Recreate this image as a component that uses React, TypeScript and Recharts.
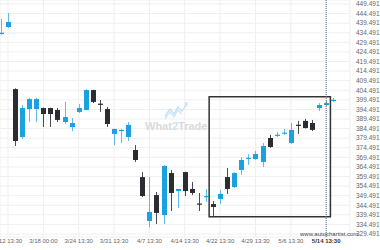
import React from "react";
import {
  Bar,
  CartesianGrid,
  ComposedChart,
  ReferenceArea,
  ReferenceLine,
  XAxis,
  YAxis,
} from "recharts";

// candle index -1 is the one cut off at the left edge
const FIRST_INDEX = -1;
const OPEN = [
  433.8, 437.5, 405.1, 380.1, 394.7, 394.7, 395.2, 395.2, 394.2, 387.9, 385.3, 393.2,
  394.2, 404.6, 397.5, 394.7, 381.7, 383.5, 380.1, 373.3, 359.2, 336.3, 349.8, 339.4,
  361.3, 351.9, 361.8, 353.0, 345.4, 348.9, 345.1, 347.8, 359.2, 354.0, 362.9, 368.9,
  368.6, 367.1, 379.6, 381.0, 381.9, 377.0, 386.5, 388.5, 387.4, 395.2, 396.8, 399.2,
];
const HIGH = [
  441.7, 444.8, 405.5, 396.8, 400.5, 400.5, 395.4, 395.4, 395.2, 398.4, 390.0, 397.3,
  405.1, 404.8, 399.4, 395.8, 384.4, 384.3, 387.9, 375.9, 361.8, 359.2, 351.4, 365.5,
  362.9, 353.0, 362.0, 356.6, 350.9, 353.0, 346.7, 352.5, 363.9, 361.8, 369.7, 371.2,
  372.8, 377.0, 381.2, 382.7, 384.3, 387.4, 388.5, 389.5, 389.0, 397.8, 398.9, 400.5,
];
const LOW = [
  433.5, 437.0, 375.4, 379.1, 387.9, 387.9, 385.3, 385.3, 387.9, 386.9, 383.2, 392.6,
  394.0, 397.8, 393.2, 385.3, 375.9, 377.0, 378.0, 367.1, 348.8, 333.1, 334.7, 334.7,
  341.5, 343.1, 349.3, 349.8, 341.5, 346.2, 338.9, 345.1, 350.4, 353.5, 360.3, 365.5,
  368.3, 364.5, 374.5, 380.1, 381.2, 376.5, 381.7, 384.5, 383.2, 393.7, 396.3, 398.4,
];
const CLOSE = [
  434.5, 440.1, 378.0, 395.2, 399.9, 399.9, 392.1, 392.1, 389.0, 390.5, 387.4, 395.2,
  404.6, 398.4, 397.1, 386.9, 384.3, 383.8, 386.4, 368.1, 349.3, 341.0, 340.5, 365.0,
  350.9, 353.0, 351.9, 350.9, 345.0, 349.3, 343.6, 350.4, 353.0, 361.3, 368.1, 369.3,
  371.2, 375.4, 374.9, 381.3, 382.4, 383.8, 386.2, 384.8, 383.8, 396.8, 397.8, 399.5,
];

const X_TICKS = [0, 5, 10, 15, 20, 25, 30, 35, 40, 45];
const X_LABELS = [
  "3/12 13:30",
  "3/18 00:00",
  "3/24 13:30",
  "3/31 13:30",
  "4/7 13:30",
  "4/14 13:30",
  "4/22 13:30",
  "4/29 13:30",
  "5/6 13:30",
  "5/14 13:30",
];
const CURRENT_INDEX = 45;

const Y_TICKS = [
  329.491, 334.491, 339.491, 344.491, 349.491, 354.491, 359.491, 364.491, 369.491,
  374.491, 379.491, 384.491, 389.491, 394.491, 399.491, 404.491, 409.491, 414.491,
  419.491, 424.491, 429.491, 434.491, 439.491, 444.491, 449.491,
];

// detected pattern box (candle index / price)
const BOX_X1 = 28.45;
const BOX_X2 = 45.6;
const BOX_Y1 = 338.5;
const BOX_Y2 = 401.1;

const BLUE = "#1ba1e2";
const DARK = "#2c2c33";

const data = OPEN.map((open, i) => ({
  idx: i + FIRST_INDEX,
  open,
  high: HIGH[i],
  low: LOW[i],
  close: CLOSE[i],
}));

function Candle(props: any) {
  const { x, y, width, height, payload } = props;
  if (x == null || y == null) return null;
  const { open, close, high, low } = payload;
  const top = Math.min(y, y + height);
  const bottom = Math.max(y, y + height);
  const ppu = high > low ? (bottom - top) / (high - low) : 0;
  const toY = (v: number) => top + (high - v) * ppu;
  const up = close >= open;
  const color = up ? BLUE : DARK;
  const cx = Math.round(x + width / 2) + 0.5;
  const bodyTop = toY(Math.max(open, close));
  const bodyH = Math.max(1.2, toY(Math.min(open, close)) - bodyTop);
  const bw = 5;
  return (
    <g>
      <line x1={cx} x2={cx} y1={top} y2={bottom} stroke={color} strokeWidth={1} strokeOpacity={up ? 0.7 : 0.85} />
      <rect x={cx - bw / 2} y={bodyTop} width={bw} height={bodyH} fill={color} />
    </g>
  );
}

function XTick(props: any) {
  const { x, y, payload } = props;
  const i = X_TICKS.indexOf(payload.value);
  const current = payload.value === CURRENT_INDEX;
  return (
    <text
      x={x}
      y={y}
      dy="0.71em"
      textAnchor="middle"
      fontSize={6}
      fontWeight={current ? 700 : 400}
      fill={current ? "#333" : "#666"}
      fontFamily="Liberation Sans, Arial, sans-serif"
    >
      {X_LABELS[i]}
    </text>
  );
}

export default function App() {
  return (
    <div style={{ position: "absolute", left: 0, top: 0, width: 380, height: 250, background: "#fff" }}>
      <ComposedChart width={380} height={250} data={data} margin={{ top: 0, right: 0, bottom: 0, left: 0 }}>
        <CartesianGrid stroke="#efefef" />
        <XAxis
          dataKey="idx"
          type="number"
          domain={[-1.13, 48.37]}
          allowDataOverflow
          ticks={X_TICKS}
          interval={0}
          height={13}
          axisLine={false}
          tickLine={false}
          tickSize={0}
          tickMargin={2}
          tick={<XTick />}
        />
        <YAxis
          orientation="right"
          type="number"
          domain={[327.93, 451.58]}
          allowDataOverflow
          ticks={Y_TICKS}
          interval={0}
          width={30}
          axisLine={false}
          tickLine={false}
          tickSize={0}
          tickMargin={6}
          tickFormatter={(v: number) => v.toFixed(3)}
          tick={{ fontSize: 6.5, fill: "#666", fontFamily: "Liberation Sans, Arial, sans-serif", textAnchor: "start" }}
        />
        <Bar
          dataKey={(d: any) => [d.low, d.high]}
          barSize={5}
          shape={<Candle />}
          isAnimationActive={false}
        />
        <ReferenceLine x={CURRENT_INDEX} stroke="#50707f" strokeWidth={1} strokeDasharray="1 1" />
        <ReferenceArea
          x1={BOX_X1}
          x2={BOX_X2}
          y1={BOX_Y1}
          y2={BOX_Y2}
          fill="none"
          fillOpacity={0}
          stroke="#333"
          strokeWidth={1.5}
        />
      </ComposedChart>
      <svg width={380} height={250} style={{ position: "absolute", left: 0, top: 0, pointerEvents: "none" }}>
        <polyline
          points="165,116 170,109 174,114 178,107 182,111 187,104"
          fill="none"
          stroke="#c9e4f4"
          strokeWidth={1.6}
        />
        <polyline
          points="165,119 170,112 174,117 178,110 182,114"
          fill="none"
          stroke="#c9e4f4"
          strokeWidth={1.2}
        />
        <polygon points="188,102 184,103 187,106" fill="#c9e4f4" />
        <text x={145} y={130} fontSize={11} fontWeight={700} fill="#dadada" fontFamily="Liberation Sans, Arial, sans-serif">
          What<tspan fill="#c9e4f4">2</tspan>Trade
        </text>
        <text x={300} y={236} fontSize={6} fill="#444" fontFamily="Liberation Sans, Arial, sans-serif">
          www.autochartist.com
        </text>
      </svg>
    </div>
  );
}
